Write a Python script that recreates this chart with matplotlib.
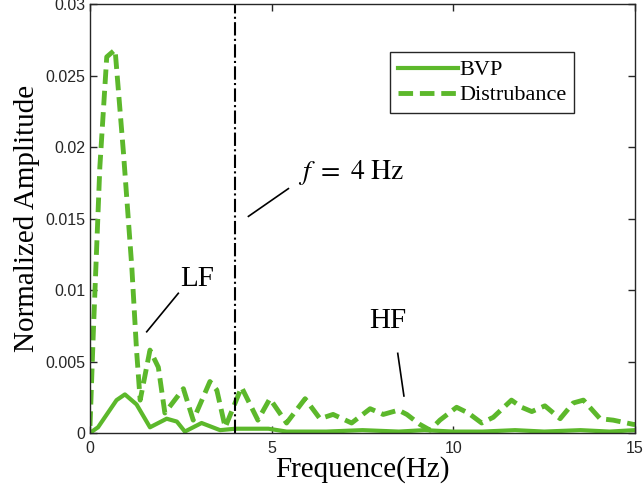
import matplotlib
matplotlib.use("Agg")
import matplotlib.pyplot as plt

plt.rcParams['mathtext.fontset'] = 'stix'

# distrubance spectrum (dashed)
dist_f = [0.0, 0.09, 0.27, 0.46, 0.55, 0.69, 0.92, 1.15, 1.28, 1.38, 1.65, 1.88,
          2.06, 2.57, 2.84, 3.3, 3.49, 3.72, 4.17, 4.62, 4.95, 5.41, 5.92, 6.33,
          6.69, 7.2, 7.71, 8.07, 8.49, 8.72, 9.08, 9.36, 9.63, 10.09, 10.41, 10.78,
          11.1, 11.6, 11.88, 12.16, 12.52, 12.94, 13.3, 13.58, 14.04, 14.4, 14.96, 15.0]
dist_a = [0.0005, 0.007, 0.0186, 0.0263, 0.0265, 0.0268, 0.0196, 0.0116, 0.0058, 0.0023,
          0.0058, 0.0046, 0.0014, 0.0031, 0.0009, 0.0036, 0.003, 0.0004, 0.0032, 0.0009,
          0.0024, 0.0007, 0.0024, 0.001, 0.0013, 0.0007, 0.0017, 0.0013, 0.0016, 0.0013,
          0.0006, 0.0002, 0.0009, 0.0018, 0.0014, 0.0007, 0.0011, 0.0023, 0.0018, 0.0015,
          0.0019, 0.001, 0.0021, 0.0023, 0.001, 0.0009, 0.0006, 0.0006]

# BVP spectrum (solid)
bvp_f = [0.0, 0.05, 0.22, 0.73, 0.96, 1.28, 1.65, 2.11, 2.39, 2.61, 3.07, 3.58, 4.0,
         4.91, 5.41, 6.5, 7.5, 8.5, 9.2, 10.0, 10.8, 11.7, 12.5, 13.5, 14.3, 15.0]
bvp_a = [0.0, 0.0001, 0.0004, 0.0023, 0.0027, 0.002, 0.0004, 0.001, 0.0008, 0.0001,
         0.0007, 0.0002, 0.0003, 0.0003, 0.0001, 0.0001, 0.0002, 0.0001, 0.0002, 0.0001,
         0.0001, 0.0002, 0.0001, 0.0002, 0.0001, 0.0002]

green = '#5cb82b'
serif = 'Liberation Serif'

fig = plt.figure(figsize=(6.44, 5.01), dpi=100)
ax = fig.add_axes([0.1398, 0.1357, 0.8462, 0.8563])

ax.plot(bvp_f, bvp_a, '-', color=green, lw=3, label='BVP')
ax.plot(dist_f, dist_a, '--', color=green, lw=3.5, dashes=(3, 1.4), label='Distrubance')
ax.axvline(4, color='black', ls='-.', lw=1.5)

ax.set_xlim(0, 15)
ax.set_ylim(0, 0.03)
ax.set_xticks([0, 5, 10, 15])
ax.set_yticks([0, 0.005, 0.01, 0.015, 0.02, 0.025, 0.03])
ax.set_yticklabels(['0', '0.005', '0.01', '0.015', '0.02', '0.025', '0.03'])
ax.tick_params(direction='in', top=True, right=True, length=5, width=1,
               labelsize=11.5, labelcolor='#262626', color='#262626')
ax.tick_params(axis='x', pad=6)
for lab in ax.get_xticklabels() + ax.get_yticklabels():
    lab.set_family('Liberation Sans')
for s in ax.spines.values():
    s.set_color('#262626')
    s.set_linewidth(1)

ax.set_xlabel('Frequence(Hz)', family=serif, fontsize=21, labelpad=0)
ax.set_ylabel('Normalized Amplitude', family=serif, fontsize=21, labelpad=4)

leg = ax.legend(loc='upper right', bbox_to_anchor=(0.888, 0.888), prop={'family': serif, 'size': 16},
                fancybox=False, edgecolor='#262626', framealpha=1, handlelength=2.7,
                handletextpad=0.05, borderpad=0.35, labelspacing=0.2, borderaxespad=0)
leg.get_frame().set_linewidth(1)

# annotations
ax.plot([4.36, 5.46], [0.01515, 0.01709], color='black', lw=1.2)
ax.text(7.2, 0.0182, r'$f\ =\ 4\ \mathrm{Hz}$', fontsize=20, ha='center', va='center')
ax.plot([1.56, 2.43], [0.00708, 0.00977], color='black', lw=1.2)
ax.text(2.95, 0.0108, 'LF', family=serif, fontsize=21, ha='center', va='center')
ax.plot([8.47, 8.64], [0.00557, 0.00259], color='black', lw=1.2)
ax.text(8.2, 0.0078, 'HF', family=serif, fontsize=21, ha='center', va='center')

fig.savefig('out.png', dpi=100)
